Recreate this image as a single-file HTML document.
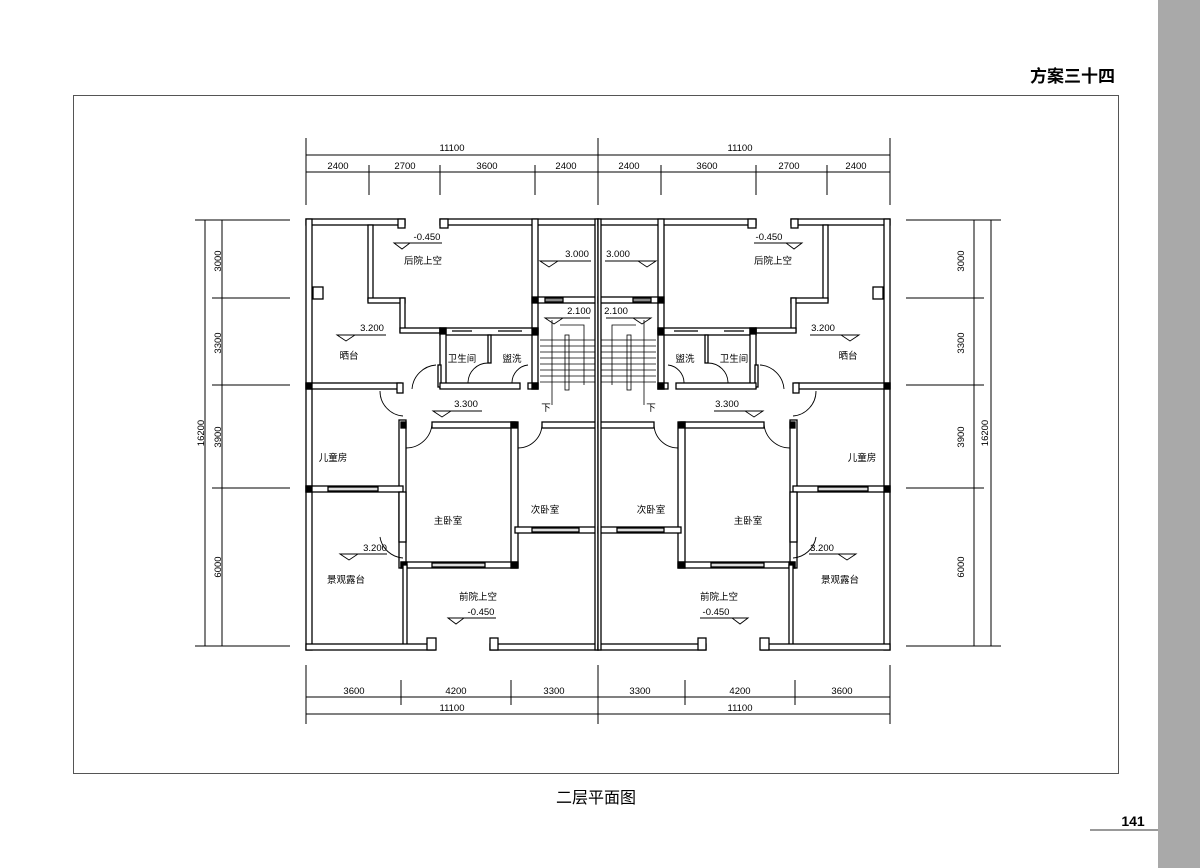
<!DOCTYPE html>
<html><head><meta charset="utf-8"><style>
body{margin:0;background:#fff;width:1200px;height:868px;overflow:hidden;position:relative;font-family:"Liberation Sans","Noto Sans CJK SC",sans-serif}
</style></head><body>
<svg width="1200" height="868" viewBox="0 0 1200 868" xmlns="http://www.w3.org/2000/svg" style="position:absolute;left:0;top:0">
<rect x="1158" y="0" width="42" height="868" fill="#a9a9a9"/>
<text x="1115" y="82" text-anchor="end" font-size="17" font-weight="bold" font-family="Liberation Sans,Noto Sans CJK SC,sans-serif">方案三十四</text>
<rect x="73.5" y="95.5" width="1045" height="678" fill="none" stroke="#555" stroke-width="1"/>
<text x="596" y="803" text-anchor="middle" font-size="16" font-family="Liberation Sans,Noto Sans CJK SC,sans-serif">二层平面图</text>
<text x="1133" y="826" text-anchor="middle" font-size="14" font-weight="bold">141</text>
<polyline points="1090,830 1158,830" stroke="#333" stroke-width="1"/>

<defs>
<g id="half" fill="#fff" stroke="#000" stroke-width="1.3">
 <!-- dimension ticks (top) -->
 <g stroke-width="1">
  <line x1="306" y1="155" x2="598" y2="155"/>
  <line x1="306" y1="172" x2="598" y2="172"/>
  <line x1="306" y1="138" x2="306" y2="205"/>
  <line x1="369" y1="165" x2="369" y2="195"/>
  <line x1="440" y1="165" x2="440" y2="195"/>
  <line x1="535" y1="165" x2="535" y2="195"/>
  <line x1="598" y1="138" x2="598" y2="205"/>
  <!-- left -->
  <line x1="205" y1="220" x2="205" y2="646"/>
  <line x1="222" y1="220" x2="222" y2="646"/>
  <line x1="195" y1="220" x2="290" y2="220"/>
  <line x1="212" y1="298" x2="290" y2="298"/>
  <line x1="212" y1="385" x2="290" y2="385"/>
  <line x1="212" y1="488" x2="290" y2="488"/>
  <line x1="195" y1="646" x2="290" y2="646"/>
  <!-- bottom -->
  <line x1="306" y1="697" x2="598" y2="697"/>
  <line x1="306" y1="714" x2="598" y2="714"/>
  <line x1="306" y1="665" x2="306" y2="724"/>
  <line x1="401" y1="680" x2="401" y2="705"/>
  <line x1="511" y1="680" x2="511" y2="705"/>
  <line x1="598" y1="665" x2="598" y2="724"/>
 </g>
 <!-- walls -->
 <rect x="306" y="219" width="99" height="6"/>
 <rect x="398" y="219" width="7" height="9"/>
 <rect x="440" y="219" width="158" height="6"/>
 <rect x="440" y="219" width="8" height="9"/>
 <rect x="306" y="219" width="6" height="431"/>
 <rect x="368" y="225" width="5" height="76"/>
 <rect x="368" y="298" width="37" height="5"/>
 <rect x="400" y="298" width="5" height="34"/>
 <rect x="400" y="328" width="40" height="5"/>
 <rect x="532" y="219" width="6" height="170"/>
 <rect x="538" y="297" width="60" height="6"/>
 <rect x="545" y="298" width="18" height="4" fill="#888"/>
 <!-- bathroom -->
 <rect x="440" y="328" width="98" height="7"/>
 <line x1="452" y1="331" x2="472" y2="331"/><line x1="498" y1="331" x2="522" y2="331"/>
 <rect x="440" y="328" width="6" height="60"/>
 <rect x="438" y="365" width="3" height="22"/>
 <rect x="488" y="335" width="3" height="28"/>
 <rect x="440" y="383" width="80" height="6"/>
 <rect x="528" y="383" width="10" height="6"/>
 <rect x="532" y="383" width="6" height="6" fill="#000"/>
 <rect x="532" y="297" width="6" height="6" fill="#000"/>
 <rect x="440" y="328" width="6" height="6" fill="#000"/>
 <rect x="532" y="328" width="6" height="6" fill="#000"/>
 <!-- stairs -->
 <g stroke-width="0.8" fill="none">
  <line x1="540" y1="340" x2="596" y2="340"/><line x1="540" y1="346" x2="596" y2="346"/>
  <line x1="540" y1="352" x2="596" y2="352"/><line x1="540" y1="358" x2="596" y2="358"/>
  <line x1="540" y1="364" x2="596" y2="364"/><line x1="540" y1="370" x2="596" y2="370"/>
  <line x1="540" y1="376" x2="596" y2="376"/><line x1="540" y1="382" x2="596" y2="382"/>
  <rect x="565" y="335" width="4" height="55"/>
  <polyline points="552,320 552,405"/>
  <polyline points="560,325 584,325 584,385"/>
 </g>
 <!-- balcony wall -->
 <rect x="306" y="383" width="95" height="6"/>
 <rect x="397" y="383" width="6" height="10"/>
 <rect x="306" y="383" width="6" height="6" fill="#000"/>
 <!-- children room -->
 <rect x="399" y="420" width="7" height="148"/>
 <rect x="401" y="422" width="5" height="6" fill="#000"/>
 <rect x="306" y="486" width="97" height="6"/>
 <rect x="328" y="487" width="50" height="4" fill="#ddd"/>
 <rect x="306" y="486" width="6" height="6" fill="#000"/>
 <rect x="399" y="492" width="7" height="50" fill="#fff"/>
 <!-- master -->
 <rect x="432" y="422" width="83" height="6"/>
 <rect x="511" y="422" width="7" height="146"/>
 <rect x="511" y="422" width="6" height="6" fill="#000"/>
 <rect x="401" y="562" width="117" height="6"/>
 <rect x="432" y="563" width="53" height="4" fill="#ddd"/>
 <rect x="401" y="562" width="6" height="6" fill="#000"/>
 <rect x="511" y="562" width="6" height="6" fill="#000"/>
 <!-- second -->
 <rect x="542" y="422" width="56" height="6"/>
 <rect x="515" y="527" width="83" height="6"/>
 <rect x="532" y="528" width="47" height="4" fill="#ddd"/>
 <rect x="403" y="565" width="4" height="82"/>
 <!-- bottom -->
 <rect x="306" y="644" width="129" height="6"/>
 <rect x="427" y="638" width="9" height="12"/>
 <rect x="490" y="644" width="108" height="6"/>
 <rect x="490" y="638" width="8" height="12"/>
 <rect x="595" y="219" width="3" height="431"/>
 <!-- doors -->
 <g fill="none" stroke-width="0.9">
  <path d="M436,365 A26,26 0 0 0 412,389"/>
  <path d="M468,383 A20,20 0 0 1 488,363"/>
  <path d="M512,383 A18,18 0 0 1 528,365"/>
  <path d="M380,391 A25,25 0 0 0 403,416"/>
  <path d="M406,448 A26,26 0 0 0 432,424"/>
  <path d="M518,448 A24,24 0 0 0 542,424"/>
  <path d="M380,537 A25,25 0 0 0 403,558"/>
 </g>
 <!-- small fixture -->
 <rect x="313" y="287" width="10" height="12"/>
 <!-- level triangles -->
 <g fill="none" stroke-width="0.9">
  <path d="M394,243 l8,6 l8,-6 z M402,243 h40"/>
  <path d="M540,261 l9,6 l9,-6 z M549,261 h42"/>
  <path d="M545,318 l9,6 l9,-6 z M554,318 h36"/>
  <path d="M337,335 l9,6 l9,-6 z M346,335 h40"/>
  <path d="M433,411 l9,6 l9,-6 z M442,411 h40"/>
  <path d="M340,554 l9,6 l9,-6 z M349,554 h38"/>
  <path d="M448,618 l8,6 l8,-6 z M456,618 h40"/>
 </g>
</g>
</defs>
<use href="#half"/>
<use href="#half" transform="translate(1196,0) scale(-1,1)"/>

<g font-family="Liberation Sans,Noto Sans CJK SC,sans-serif" font-size="9.5" text-anchor="middle">
 <text x="452" y="151">11100</text><text x="740" y="151">11100</text>
 <text x="338" y="169">2400</text><text x="405" y="169">2700</text><text x="487" y="169">3600</text><text x="566" y="169">2400</text>
 <text x="629" y="169">2400</text><text x="707" y="169">3600</text><text x="789" y="169">2700</text><text x="856" y="169">2400</text>
 <text x="354" y="694">3600</text><text x="456" y="694">4200</text><text x="554" y="694">3300</text>
 <text x="640" y="694">3300</text><text x="740" y="694">4200</text><text x="842" y="694">3600</text>
 <text x="452" y="711">11100</text><text x="740" y="711">11100</text>
 <text transform="translate(204,433) rotate(-90)">16200</text>
 <text transform="translate(221,261) rotate(-90)">3000</text>
 <text transform="translate(221,343) rotate(-90)">3300</text>
 <text transform="translate(221,437) rotate(-90)">3900</text>
 <text transform="translate(221,567) rotate(-90)">6000</text>
 <text transform="translate(964,261) rotate(-90)">3000</text>
 <text transform="translate(964,343) rotate(-90)">3300</text>
 <text transform="translate(964,437) rotate(-90)">3900</text>
 <text transform="translate(964,567) rotate(-90)">6000</text>
 <text transform="translate(988,433) rotate(-90)">16200</text>
</g>
<g font-family="Liberation Sans,Noto Sans CJK SC,sans-serif" font-size="9.5" text-anchor="middle">
 <text x="427" y="240">-0.450</text><text x="769" y="240">-0.450</text>
 <text x="423" y="264">后院上空</text><text x="773" y="264">后院上空</text>
 <text x="577" y="257">3.000</text><text x="618" y="257">3.000</text>
 <text x="579" y="314">2.100</text><text x="616" y="314">2.100</text>
 <text x="372" y="331">3.200</text><text x="823" y="331">3.200</text>
 <text x="349" y="359">晒台</text><text x="848" y="359">晒台</text>
 <text x="462" y="362">卫生间</text><text x="734" y="362">卫生间</text>
 <text x="512" y="362">盥洗</text><text x="685" y="362">盥洗</text>
 <text x="466" y="407">3.300</text><text x="727" y="407">3.300</text>
 <text x="546" y="411">下</text><text x="651" y="411">下</text>
 <text x="333" y="461">儿童房</text><text x="862" y="461">儿童房</text>
 <text x="448" y="524">主卧室</text><text x="748" y="524">主卧室</text>
 <text x="545" y="513">次卧室</text><text x="651" y="513">次卧室</text>
 <text x="375" y="551">3.200</text><text x="822" y="551">3.200</text>
 <text x="346" y="583">景观露台</text><text x="840" y="583">景观露台</text>
 <text x="478" y="600">前院上空</text><text x="719" y="600">前院上空</text>
 <text x="481" y="615">-0.450</text><text x="716" y="615">-0.450</text>
</g>
</svg>
</body></html>
